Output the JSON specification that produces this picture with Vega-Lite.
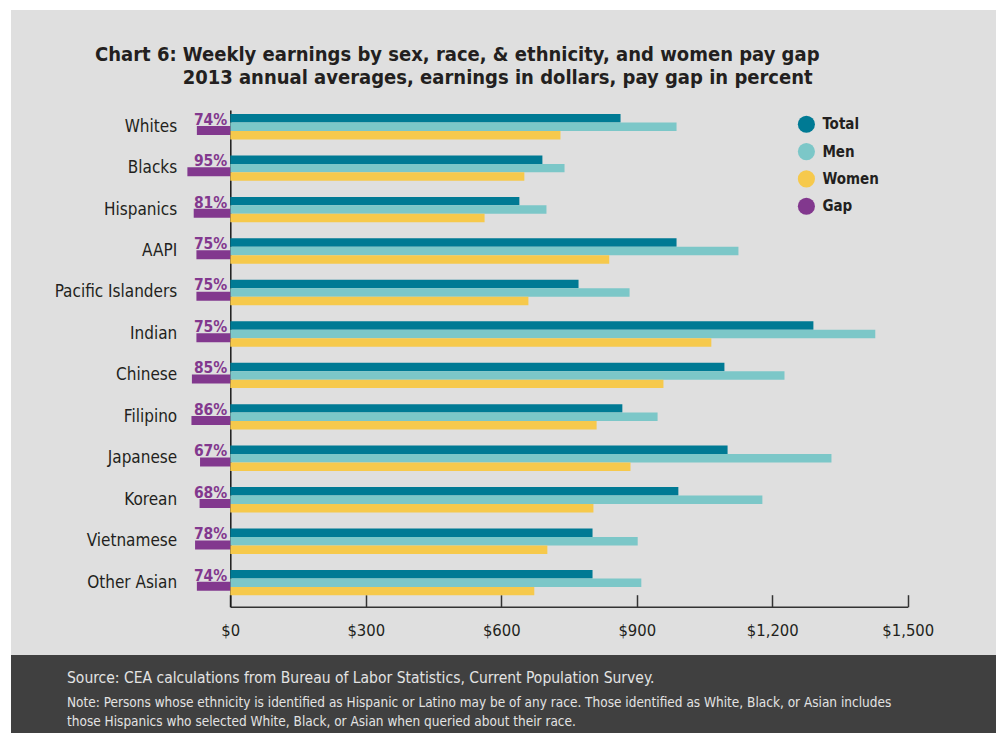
{
  "$schema": "https://vega.github.io/schema/vega-lite/v6.json",
  "background": "white",
  "padding": {"left": 11, "top": 10, "right": 0, "bottom": 1},
  "spacing": 0,
  "config": {
    "font": "Liberation Sans Narrow, DejaVu Sans Condensed, sans-serif",
    "view": {"stroke": null}
  },
  "datasets": {
    "earnings": [
      {"group": "Whites", "series": "Total", "value": 864},
      {"group": "Whites", "series": "Men", "value": 988},
      {"group": "Whites", "series": "Women", "value": 731},
      {"group": "Blacks", "series": "Total", "value": 691},
      {"group": "Blacks", "series": "Men", "value": 740},
      {"group": "Blacks", "series": "Women", "value": 651},
      {"group": "Hispanics", "series": "Total", "value": 640},
      {"group": "Hispanics", "series": "Men", "value": 700},
      {"group": "Hispanics", "series": "Women", "value": 563},
      {"group": "AAPI", "series": "Total", "value": 988},
      {"group": "AAPI", "series": "Men", "value": 1125},
      {"group": "AAPI", "series": "Women", "value": 839},
      {"group": "Pacific Islanders", "series": "Total", "value": 771},
      {"group": "Pacific Islanders", "series": "Men", "value": 884},
      {"group": "Pacific Islanders", "series": "Women", "value": 660},
      {"group": "Indian", "series": "Total", "value": 1291},
      {"group": "Indian", "series": "Men", "value": 1428},
      {"group": "Indian", "series": "Women", "value": 1065},
      {"group": "Chinese", "series": "Total", "value": 1094},
      {"group": "Chinese", "series": "Men", "value": 1227},
      {"group": "Chinese", "series": "Women", "value": 959},
      {"group": "Filipino", "series": "Total", "value": 868},
      {"group": "Filipino", "series": "Men", "value": 946},
      {"group": "Filipino", "series": "Women", "value": 811},
      {"group": "Japanese", "series": "Total", "value": 1101},
      {"group": "Japanese", "series": "Men", "value": 1331},
      {"group": "Japanese", "series": "Women", "value": 886},
      {"group": "Korean", "series": "Total", "value": 992},
      {"group": "Korean", "series": "Men", "value": 1178},
      {"group": "Korean", "series": "Women", "value": 804},
      {"group": "Vietnamese", "series": "Total", "value": 802},
      {"group": "Vietnamese", "series": "Men", "value": 902},
      {"group": "Vietnamese", "series": "Women", "value": 702},
      {"group": "Other Asian", "series": "Total", "value": 802},
      {"group": "Other Asian", "series": "Men", "value": 910},
      {"group": "Other Asian", "series": "Women", "value": 673}
    ],
    "gap": [
      {"group": "Whites", "gap": 0.74},
      {"group": "Blacks", "gap": 0.95},
      {"group": "Hispanics", "gap": 0.81},
      {"group": "AAPI", "gap": 0.75},
      {"group": "Pacific Islanders", "gap": 0.75},
      {"group": "Indian", "gap": 0.75},
      {"group": "Chinese", "gap": 0.85},
      {"group": "Filipino", "gap": 0.86},
      {"group": "Japanese", "gap": 0.67},
      {"group": "Korean", "gap": 0.68},
      {"group": "Vietnamese", "gap": 0.78},
      {"group": "Other Asian", "gap": 0.74}
    ]
  },
  "vconcat": [
    {
      "width": 985,
      "height": 645,
      "view": {"fill": "#dfdfdf", "stroke": null},
      "title": {
        "text": [
          "Chart 6: Weekly earnings by sex, race, & ethnicity, and women pay gap",
          "\u200b\u00a0\u00a0\u00a0\u00a0\u00a0\u00a0\u00a0\u00a0\u00a0\u00a0\u00a0\u00a0\u00a0\u00a02013 annual averages, earnings in dollars, pay gap in percent"
        ],
        "anchor": "start",
        "frame": "group",
        "dx": 84,
        "offset": -93.6,
        "baseline": "alphabetic",
        "fontSize": 20,
        "fontWeight": "bold",
        "color": "#231f20",
        "lineHeight": 23
      },
      "layer": [
        {
          "data": {"name": "earnings"},
          "mark": {"type": "bar"},
          "encoding": {
            "y": {
              "field": "group",
              "type": "nominal",
              "sort": null,
              "scale": {
                "domain": ["Whites", "Blacks", "Hispanics", "AAPI", "Pacific Islanders", "Indian", "Chinese", "Filipino", "Japanese", "Korean", "Vietnamese", "Other Asian"],
                "range": [100, 596.7],
                "paddingInner": 0.3872,
                "paddingOuter": 0.185,
                "align": 0.26
              },
              "axis": {
                "title": null,
                "orient": "left",
                "offset": -219.3,
                "labelPadding": 53.6,
                "labelFontSize": 17,
                "labelColor": "#231f20",
                "ticks": false,
                "domainColor": "#1a1a1a",
                "domainWidth": 1.5
              }
            },
            "yOffset": {"field": "series", "type": "nominal", "sort": ["Total", "Men", "Women"]},
            "x": {
              "field": "value",
              "type": "quantitative",
              "scale": {"domain": [0, 1500], "range": [219.3, 896.8], "nice": false},
              "axis": {
                "title": null,
                "orient": "bottom",
                "offset": -48.3,
                "values": [0, 300, 600, 900, 1200, 1500],
                "format": "$,d",
                "tickSize": -12,
                "tickColor": "#333333",
                "tickWidth": 1.5,
                "domainColor": "#333333",
                "domainWidth": 1.5,
                "labelFontSize": 16.5,
                "labelColor": "#231f20",
                "labelPadding": 27.5,
                "labelFlush": false,
                "grid": false
              }
            },
            "color": {
              "field": "series",
              "type": "nominal",
              "scale": {
                "domain": ["Total", "Men", "Women", "Gap"],
                "range": ["#007a94", "#7cc7c8", "#f6c94c", "#82388e"]
              },
              "legend": {
                "title": null,
                "orient": "none",
                "legendX": 786.4,
                "legendY": 105.3,
                "padding": 0,
                "symbolType": "circle",
                "symbolSize": 293,
                "symbolStrokeWidth": 0,
                "symbolOpacity": 1,
                "labelFontSize": 15,
                "labelFontWeight": "bold",
                "labelColor": "#231f20",
                "rowPadding": 9.3,
                "labelOffset": 7
              }
            }
          }
        },
        {
          "data": {"name": "gap"},
          "layer": [
            {
              "mark": {"type": "bar", "height": 9, "yOffset": 3.7},
              "encoding": {
                "y": {"field": "group", "type": "nominal", "sort": null},
                "x": {
                  "field": "gap",
                  "type": "quantitative",
                  "scale": {"domain": [0, 1], "range": [219.3, 174.13], "nice": false},
                  "axis": null
                },
                "color": {"datum": "Gap"}
              }
            },
            {
              "mark": {
                "type": "text",
                "align": "right",
                "baseline": "alphabetic",
                "dx": -3,
                "dy": -2,
                "fontSize": 15.5,
                "fontWeight": "bold",
                "color": "#82388e"
              },
              "encoding": {
                "y": {"field": "group", "type": "nominal", "sort": null},
                "x": {"datum": 0, "type": "quantitative"},
                "text": {"field": "gap", "type": "quantitative", "format": ".0%"}
              }
            }
          ]
        }
      ],
      "resolve": {"scale": {"x": "independent"}}
    },
    {
      "width": 985,
      "height": 78,
      "view": {"fill": "#404040", "stroke": null},
      "layer": [
        {
          "data": {"values": [{"line": "Source: CEA calculations from Bureau of Labor Statistics, Current Population Survey."}]},
          "mark": {"type": "text", "align": "left", "baseline": "alphabetic", "dx": 56, "dy": 28.3, "fontSize": 15.5, "color": "#e3e3e3"},
          "encoding": {
            "x": {"datum": 0, "type": "quantitative", "scale": {"domain": [0, 1]}, "axis": null},
            "y": {"datum": 1, "type": "quantitative", "scale": {"domain": [0, 1]}, "axis": null},
            "text": {"field": "line", "type": "nominal"}
          }
        },
        {
          "data": {"values": [{"line": "Note: Persons whose ethnicity is identified as Hispanic or Latino may be of any race.  Those identified as White, Black, or Asian includes\nthose Hispanics who selected White, Black, or Asian when queried about their race."}]},
          "mark": {"type": "text", "align": "left", "baseline": "alphabetic", "dx": 56, "dy": 51.7, "fontSize": 13.5, "lineHeight": 19, "lineBreak": "\n", "color": "#e3e3e3"},
          "encoding": {
            "x": {"datum": 0, "type": "quantitative"},
            "y": {"datum": 1, "type": "quantitative"},
            "text": {"field": "line", "type": "nominal"}
          }
        }
      ]
    }
  ]
}
